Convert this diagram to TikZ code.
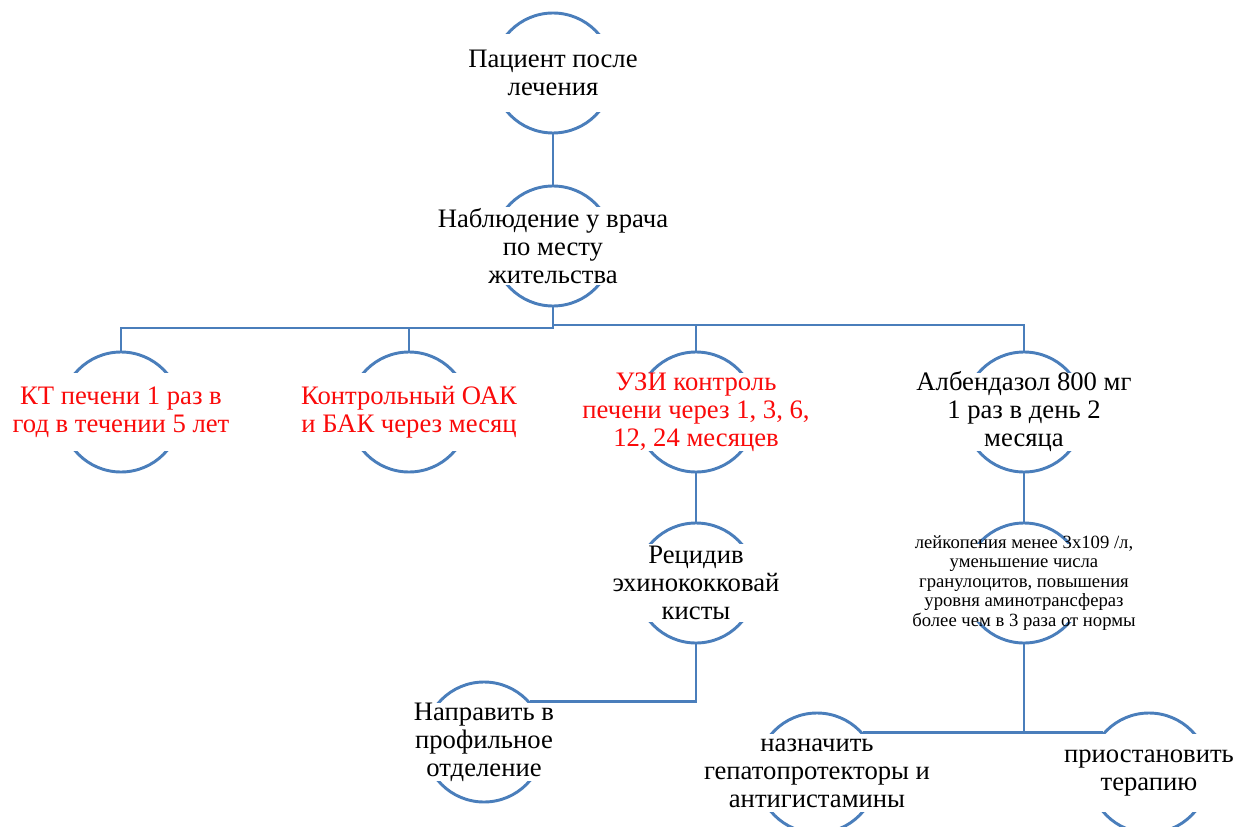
\documentclass[tikz,border=0pt]{standalone}
\usepackage{fontspec}
\setmainfont{Liberation Serif}
\usepackage{tikz}

\definecolor{lineblue}{RGB}{74,126,187}
\definecolor{txtred}{RGB}{250,10,10}

\begin{document}
\begin{tikzpicture}[x=0.75pt,y=0.75pt,yscale=-1,xscale=1,
  bub/.style={circle,draw=lineblue,line width=2.2pt,minimum size=90pt,inner sep=0pt,label={[cover]center:}},
  cover/.style={fill=white,inner sep=0pt,minimum width=96pt,minimum height=58.5pt},
  txt/.style={align=center,inner sep=0pt,font=\fontsize{20}{21}\selectfont},
  small/.style={align=center,inner sep=0pt,font=\fontsize{14}{14.6}\selectfont},
  conn/.style={draw=lineblue,line width=2.2pt}]
\useasboundingbox (0,0) rectangle (1234,827);
\clip (0,0) rectangle (1234,827);

%Shape: Circle
\node[bub] (pat) at (553,73) {};
%Shape: Circle
\node[bub] (obs) at (553,246) {};
%Shape: Circle
\node[bub] (kt) at (121,412) {};
%Shape: Circle
\node[bub] (oak) at (409,412) {};
%Shape: Circle
\node[bub] (uzi) at (696,412) {};
%Shape: Circle
\node[bub] (alb) at (1024,412) {};
%Shape: Circle
\node[bub] (rec) at (696,583) {};
%Shape: Circle
\node[bub] (lejk) at (1024,583) {};
%Shape: Circle
\node[bub] (napr) at (484,742) {};
%Shape: Circle
\node[bub] (nazn) at (817,773) {};
%Shape: Circle
\node[bub] (prio) at (1149,773) {};

% Text Node
\node[txt] (pat-t) at (pat) {Пациент после\\лечения};
% Text Node
\node[txt] (obs-t) at (obs) {Наблюдение у врача\\по месту\\жительства};
% Text Node
\node[txt,text=txtred] (kt-t) at (kt) {КТ печени 1 раз в\\год в течении 5 лет};
% Text Node
\node[txt,text=txtred] (oak-t) at (oak) {Контрольный ОАК\\и БАК через месяц};
% Text Node
\node[txt,text=txtred] (uzi-t) at (uzi) {УЗИ контроль\\печени через 1, 3, 6,\\12, 24 месяцев};
% Text Node
\node[txt] (alb-t) at (alb) {Албендазол 800 мг\\1 раз в день 2\\месяца};
% Text Node
\node[txt] (rec-t) at (rec) {Рецидив\\эхинококковай\\кисты};
% Text Node
\node[small] (lejk-t) at (lejk) {лейкопения менее 3x109 /л,\\уменьшение числа\\гранулоцитов, повышения\\уровня аминотрансфераз\\более чем в 3 раза от нормы};
% Text Node
\node[txt] (napr-t) at (napr) {Направить в\\профильное\\отделение};
% Text Node
\node[txt] (nazn-t) at (nazn) {назначить\\гепатопротекторы и\\антигистамины};
% Text Node
\node[txt] (prio-t) at (prio) {приостановить\\терапию};

\coordinate (busl) at (0,328);
\coordinate (busr) at (0,325);

%Straight Lines
\draw[conn] (pat.south) -- (obs.north);
%Straight Lines
\draw[conn] (obs.south) -- (obs.south |- busl) -| (kt.north);
%Straight Lines
\draw[conn] (obs.south) -- (obs.south |- busl) -| (oak.north);
%Straight Lines
\draw[conn] (obs.south) -- (obs.south |- busr) -| (uzi.north);
%Straight Lines
\draw[conn] (obs.south) -- (obs.south |- busr) -| (alb.north);
%Straight Lines
\draw[conn] (uzi.south) -- (rec.north);
%Straight Lines
\draw[conn] (alb.south) -- (lejk.north);
%Straight Lines
\draw[conn] (rec.south) |- (napr.41);
%Straight Lines
\draw[conn] (lejk.south) |- (nazn.41);
%Straight Lines
\draw[conn] (lejk.south) |- (prio.139);

\end{tikzpicture}
\end{document}
